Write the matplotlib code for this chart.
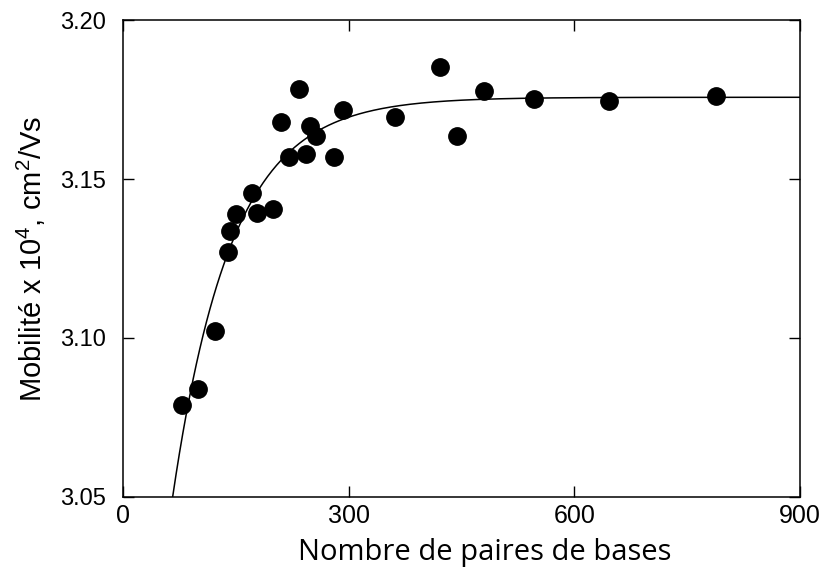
import numpy as np
import matplotlib
matplotlib.use("Agg")
import matplotlib.pyplot as plt

plt.rcParams["mathtext.fontset"] = "custom"
plt.rcParams["mathtext.rm"] = "Liberation Sans"
plt.rcParams["mathtext.it"] = "Liberation Sans"

# data
paires_bases = [78, 100, 122, 140, 142, 150, 171, 178, 199, 210, 221, 234,
                243, 249, 257, 281, 292, 362, 421, 444, 480, 547, 646, 789]
mobilite = [3.0789, 3.0840, 3.1022, 3.1270, 3.1336, 3.1389, 3.1455, 3.1394,
            3.1406, 3.1679, 3.1570, 3.1782, 3.1579, 3.1668, 3.1634, 3.1570,
            3.1717, 3.1694, 3.1851, 3.1636, 3.1777, 3.1751, 3.1746, 3.1762]

# fitted curve: y = plateau - amp * exp(-x / longueur)
plateau = 3.1757
amp = 0.293
longueur = 78.0

x_ticks = [0, 300, 600, 900]
y_ticks = [3.05, 3.10, 3.15, 3.20]

fig = plt.figure(figsize=(8.21, 5.67), dpi=100)
ax = fig.add_axes([0.1498, 0.1235, 0.8246, 0.8412])

xs = np.linspace(0, 900, 600)
ax.plot(xs, plateau - amp * np.exp(-xs / longueur), color="black", lw=1.1)
ax.plot(paires_bases, mobilite, "o", color="black", ms=12.5, zorder=3)

ax.set_xlim(0, 900)
ax.set_ylim(3.05, 3.20)
ax.set_xticks(x_ticks)
ax.set_yticks(y_ticks)
ax.set_xticklabels([str(t) for t in x_ticks],
                   family=["Liberation Sans Narrow", "Liberation Sans"], fontsize=18)
ax.set_yticklabels(["%.2f" % t for t in y_ticks], family="Liberation Sans", fontsize=17)
ax.tick_params(axis="y", pad=12)
ax.tick_params(axis="x", pad=5)
ax.tick_params(direction="in", length=8, width=1, top=True, right=True)
for s in ax.spines.values():
    s.set_linewidth(1.1)

ax.set_xlabel("Nombre de paires de bases", family="Open Sans", fontsize=21)
ax.xaxis.set_label_coords(0.535, -0.085, transform=ax.transAxes)
ax.xaxis.label.set_va("top")
ax.set_ylabel("Mobilité x 10$^4$, cm$^2$/Vs", family="Liberation Sans", fontsize=21, labelpad=9)

fig.savefig("out.png", dpi=100)
